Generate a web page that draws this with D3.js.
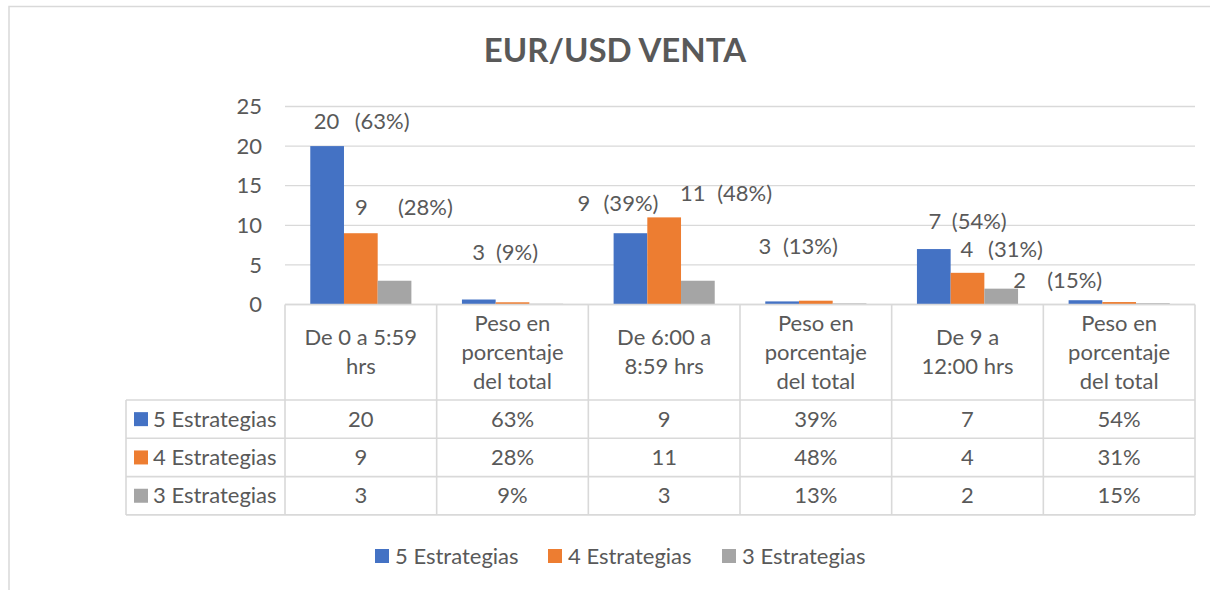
<!DOCTYPE html>
<html>
<head>
<meta charset="utf-8">
<script src="https://cdn.jsdelivr.net/npm/d3@7"></script>
<style>
  body { margin: 0; background: #fff; }
  svg text { font-family: Lato, "Noto Sans", sans-serif; fill: #595959; }
</style>
</head>
<body>
<div id="chart"></div>
<script>
// chart data
var title = 'EUR/USD VENTA';
var categories = ['De 0 a 5:59\nhrs', 'Peso en\nporcentaje\ndel total', 'De 6:00 a\n8:59 hrs',
                  'Peso en\nporcentaje\ndel total', 'De 9 a\n12:00 hrs', 'Peso en\nporcentaje\ndel total'];
var seriesNames = ['5 Estrategias', '4 Estrategias', '3 Estrategias'];
var s5 = [20, 0.63, 9, 0.39, 7, 0.54];
var s4 = [9, 0.28, 11, 0.48, 4, 0.31];
var s3 = [3, 0.09, 3, 0.13, 2, 0.15];
var isPct = [false, true, false, true, false, true];
var yTicks = [0, 5, 10, 15, 20, 25];
var colors = ['#4472C4', '#ED7D31', '#A5A5A5'];

// the data labels were dragged around by hand in the original, so keep the nudges here
// [series][group] -> value dx, percent dx, dy (relative to bar centre / bar top)
var labelNudge = [
  [[-0.5, 55, -25], [-46.5, 0.5, -30], [1, 45.5, -28]],
  [[0.5, 64.5, -26], [28.5, 80.5, -24], [-0.5, 48, -24]],
  [[84, 122.5, -28], [67, 112.5, -34], [18.5, 73.5, -8]]
];

var series = [s5, s4, s3];
var W = 1210, H = 590;
var FS = '22px';
var plot = { left: 285, right: 1195, top: 106.5, bottom: 304.5 };
var table = { left: 126, headerBottom: 400, rowH: 38.3 };

var svg = d3.select('#chart').append('svg').attr('width', W).attr('height', H);

// outer chart border (cropped at right)
svg.append('path')
  .attr('d', 'M9,' + H + 'V6.5H' + W)
  .attr('fill', 'none').attr('stroke', '#D9D9D9').attr('stroke-width', 1.5);

svg.append('text')
  .attr('x', 615).attr('y', 50).attr('dy', '0.35em')
  .attr('text-anchor', 'middle')
  .style('font-size', '33px').style('font-weight', 'bold')
  .text(title);

var x = d3.scaleBand().domain(d3.range(categories.length)).range([plot.left, plot.right]);
var xs = d3.scaleBand().domain(d3.range(series.length)).range([0, x.bandwidth()])
  .paddingInner(0).paddingOuter(0.75);
var y = d3.scaleLinear().domain([0, 25]).range([plot.bottom, plot.top]);

// gridlines + y labels
svg.append('g').selectAll('line').data(yTicks).join('line')
  .attr('x1', plot.left).attr('x2', plot.right)
  .attr('y1', function(d) { return y(d); }).attr('y2', function(d) { return y(d); })
  .attr('stroke', '#D9D9D9').attr('stroke-width', 1.3);

svg.append('g').selectAll('text').data(yTicks).join('text')
  .attr('x', 262).attr('y', function(d) { return y(d); }).attr('dy', '0.35em')
  .attr('text-anchor', 'end').style('font-size', FS)
  .text(function(d) { return d; });

// bars
series.forEach(function(vals, si) {
  svg.append('g').selectAll('rect').data(vals).join('rect')
    .attr('x', function(d, i) { return x(i) + xs(si); })
    .attr('width', xs.bandwidth())
    .attr('y', function(d) { return y(d); })
    .attr('height', function(d) { return y(0) - y(d); })
    .attr('fill', colors[si]);
});

// data labels: value + share of the next (peso) column
var labels = svg.append('g').style('font-size', FS);
series.forEach(function(vals, si) {
  d3.range(0, categories.length, 2).forEach(function(ci, gi) {
    var nudge = labelNudge[si][gi];
    var bx = x(ci) + xs(si) + xs.bandwidth() / 2;
    var by = y(vals[ci]);
    labels.append('text')
      .attr('x', bx + nudge[0]).attr('y', by + nudge[2]).attr('dy', '0.35em')
      .attr('text-anchor', 'middle').text(vals[ci]);
    labels.append('text')
      .attr('x', bx + nudge[1]).attr('y', by + nudge[2]).attr('dy', '0.35em')
      .attr('text-anchor', 'middle').text('(' + Math.round(vals[ci + 1] * 100) + '%)');
  });
});

// data table
var tg = svg.append('g');
var lineStyle = function(sel) { return sel.attr('stroke', '#D9D9D9').attr('stroke-width', 1.6); };
var tableBottom = table.headerBottom + series.length * table.rowH;

// horizontal lines
d3.range(series.length + 1).forEach(function(r) {
  var yy = table.headerBottom + r * table.rowH;
  tg.append('line').attr('x1', table.left).attr('x2', plot.right)
    .attr('y1', yy).attr('y2', yy).call(lineStyle);
});
tg.append('line').attr('x1', plot.left).attr('x2', plot.right)
  .attr('y1', plot.bottom).attr('y2', plot.bottom).call(lineStyle);
// vertical lines
d3.range(categories.length + 1).forEach(function(c) {
  var xx = plot.left + c * x.bandwidth();
  tg.append('line').attr('x1', xx).attr('x2', xx)
    .attr('y1', plot.bottom).attr('y2', tableBottom).call(lineStyle);
});
tg.append('line').attr('x1', table.left).attr('x2', table.left)
  .attr('y1', table.headerBottom).attr('y2', tableBottom).call(lineStyle);

// header cells
categories.forEach(function(cat, i) {
  var lines = cat.split('\n');
  var cy = (plot.bottom + table.headerBottom) / 2;
  var lh = 29;
  var t = tg.append('text').attr('text-anchor', 'middle').style('font-size', FS);
  lines.forEach(function(l, li) {
    t.append('tspan')
      .attr('x', x(i) + x.bandwidth() / 2)
      .attr('y', cy + (li - (lines.length - 1) / 2) * lh)
      .attr('dy', '0.35em')
      .text(l);
  });
});

// rows
series.forEach(function(vals, si) {
  var cy = table.headerBottom + (si + 0.5) * table.rowH;
  tg.append('rect').attr('x', 134).attr('y', cy - 7).attr('width', 14).attr('height', 14)
    .attr('fill', colors[si]);
  tg.append('text').attr('x', 153).attr('y', cy).attr('dy', '0.35em')
    .style('font-size', FS).text(seriesNames[si]);
  vals.forEach(function(v, i) {
    tg.append('text')
      .attr('x', x(i) + x.bandwidth() / 2).attr('y', cy).attr('dy', '0.35em')
      .attr('text-anchor', 'middle').style('font-size', FS)
      .text(isPct[i] ? Math.round(v * 100) + '%' : v);
  });
});

// legend
var legendX = [375, 548, 722];
var lg = svg.append('g');
seriesNames.forEach(function(name, si) {
  lg.append('rect').attr('x', legendX[si]).attr('y', 549).attr('width', 14).attr('height', 14)
    .attr('fill', colors[si]);
  lg.append('text').attr('x', legendX[si] + 20).attr('y', 556).attr('dy', '0.35em')
    .style('font-size', FS).text(name);
});
</script>
</body>
</html>
